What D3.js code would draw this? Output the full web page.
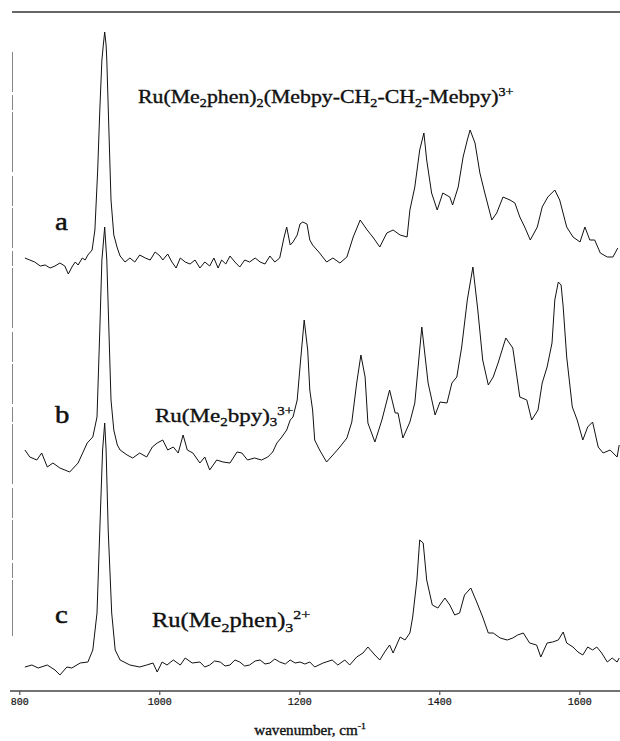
<!DOCTYPE html>
<html>
<head>
<meta charset="utf-8">
<script src="https://cdn.jsdelivr.net/npm/d3@7"></script>
<style>
  body { margin: 0; background: #fff; }
  svg { display: block; }
</style>
</head>
<body>
<svg></svg>
<script>
const width = 620;
const height = 741;

// wavenumbers (cm-1) and relative intensity above each trace's own baseline
const wnA = [808,815,822,830,837,844,851,858,865,870,876,880,884,890,894,898,904,908,912,915,918,920,922,924,925,928,931,935,940,944,
  951,958,965,972,980,987,994,1001,1005,1012,1018,1024,1030,1037,1044,1051,1058,1065,1072,1078,1084,1089,1095,1101,1108,1115,1122,1129,1137,1144,1151,1158,1165,1172,
  1178,1182,1187,1191,1197,1201,1205,1211,1215,1219,1229,1239,1248,1258,1268,1277,1287,1297,1305,1315,1325,1334,1344,1354,
  1358,1365,1372,1378,1382,1389,1397,1405,1415,1419,1427,1434,1440,1444,1451,1458,1465,1475,1482,1491,1501,1508,1515,1522,1530,
  1540,1547,1555,1565,1572,1582,1591,1601,1608,1615,1622,1630,1640,1648,1655];
const intA = [3.5,2.5,1.5,-0.5,0,-1.5,-0.5,1,-0.5,-4.5,-0.5,1.5,0,3.5,2.5,5,7.5,17.5,47.5,77.5,102.5,110,116.5,110,102.5,67.5,32.5,15,8.5,4.5,
  1.5,3.5,1.5,5,3.5,2.5,6.5,4.5,2.5,5.5,1.5,-1.5,3.5,1.5,0.5,2.5,-1.5,1.5,-0.5,3.5,-1.5,2.5,0.5,4.5,1.5,-1,2.5,1.5,3.5,1.5,0.5,4.5,1.5,3.5,
  13.5,19,10,11.5,15,20.5,21.5,20.5,12.5,10,6,1.5,3.5,1,4,14,22.5,17.5,14,9,16,17.5,15,14,
  27.5,39,57.5,66,52.5,36,27.5,36,34,30,39,54,62.5,67.5,61,46,36,22.5,26,34,32.5,31,24,19,12.5,
  19,29,34,37.5,32.5,19,14,11.5,19,12.5,12.5,6,4,4,8.5];

const wnB = [808,815,825,832,840,848,858,872,884,897,905,911,915,918,922,925,928,931,935,940,944,
  954,962,972,982,990,997,1005,1012,1020,1027,1034,1040,1048,1058,1065,1072,1082,1091,1101,1111,1118,1126,1136,1146,1155,1162,
  1168,1175,1182,1187,1191,1197,1201,1207,1212,1215,1219,1222,1229,1239,1248,1258,1268,1275,1282,1288,1294,1298,1308,1318,1329,
  1337,1341,1348,1358,1365,1375,1384,1394,1401,1411,1418,1425,1432,1440,1448,1455,1462,1470,1477,1484,1491,1495,1505,1515,1525,
  1532,1541,1547,1554,1561,1565,1570,1574,1577,1582,1590,1597,1605,1612,1619,1627,1634,1644,1654,1657];
const intB = [5,1.5,0,3.5,-3.5,-1.5,-4,-6,-1.5,8.5,11.5,21.5,65,100,116.5,100,65,30,15,7.5,5,
  2.5,1,3.5,1.5,6.5,8.5,10,5,6.5,3.5,12.5,5,3.5,-1.5,1.5,-5,0,-1,-1.5,4,3.5,0,1,0,1.5,4,
  8.5,11.5,15,20,21.5,30,46.5,70,55,35,25,10,5,-1,2.5,6.5,11,19,38.5,52.5,41.5,18.5,9,20,35,
  23.5,23.5,11,19,28.5,66.5,38.5,22.5,29,28.5,38.5,41.5,56.5,80,96.5,75,50,37.5,41.5,48.5,56.5,61,56,31.5,30,
  20,25,38.5,46.5,58.5,80,89,87.5,76.5,51.5,26.5,20,10,16.5,19,6.5,3.5,5,1.5,7.5];

const wnC = [808,818,827,840,851,858,868,875,887,898,905,911,915,919,922,924,927,932,937,944,
  958,972,982,991,997,1004,1011,1020,1030,1037,1047,1058,1065,1072,1079,1087,1094,1101,1108,1115,1122,1129,1137,1144,1151,1158,1165,1172,
  1180,1187,1194,1201,1208,1215,1222,1234,1247,1255,1265,1272,1282,1291,1298,1308,1315,1322,1329,1334,1344,1351,1358,
  1362,1368,1372,1377,1382,1390,1398,1408,1415,1422,1429,1436,1445,1454,1462,1470,1477,1487,1497,1505,1512,1520,1529,
  1539,1545,1554,1562,1570,1577,1582,1591,1598,1605,1612,1619,1625,1632,1640,1647,1654,1657];
const intC = [-1,0,-1.5,0,-2.5,-5,-1,-1.5,1,1.5,7.5,26,67.5,107.5,121,107.5,67.5,26,7.5,2.5,
  0,-1,0,1,-3.5,1.5,0,2.5,0,3.5,1,1.5,-1,0,2,1.5,-0.5,0,2.5,1.5,-0.5,0,2,2.5,0.5,1,3,1.5,
  0.5,2.5,1,1.5,0.5,1.5,-1,1,2.5,0,2.5,0,4,6,9,5,2.5,6.5,10,6,14,12.5,16,
  24,42.5,62.5,61,42.5,30,28.5,33.5,30,25,26,35,38.5,31,24,16,16,13.5,12.5,13.5,15,16,11,
  10,4,11,11.5,12.5,16.5,11,9,6.5,5,9,7.5,9,6,1.5,3.5,1.5,3.5];

// vertical offsets of the stacked traces (same units as intensity)
const offsets = [213, 115.5, 13];
const letters = ["a", "b", "c"];
const xTicks = [800, 1000, 1200, 1400, 1600];

const traces = [
  {wn: wnA, val: intA},
  {wn: wnB, val: intB},
  {wn: wnC, val: intC}
];

const x = d3.scaleLinear().domain([800, 1600]).range([19.3, 579.3]);
const y = d3.scaleLinear().domain([0, 340]).range([691, 11]);

const svg = d3.select("svg")
  .attr("width", width)
  .attr("height", height);

// frame bits: top rule, faint left rule
svg.append("line")
  .attr("x1", 12).attr("x2", 620)
  .attr("y1", y(339.5)).attr("y2", y(339.5))
  .attr("stroke", "#333").attr("stroke-width", 1.4);

svg.append("line")
  .attr("x1", 12.5).attr("x2", 12.5)
  .attr("y1", 52).attr("y2", 636)
  .attr("stroke", "#777").attr("stroke-width", 0.9)
  .attr("stroke-dasharray", "40,3,15,2,60,4,30,2");

// spectra
const line = d3.line()
  .x(function (d) { return x(d[0]); })
  .y(function (d) { return y(d[1]); });

traces.forEach(function (t, i) {
  const pts = t.wn.map(function (w, j) { return [w, t.val[j] + offsets[i]]; });
  svg.append("path")
    .datum(pts)
    .attr("d", line)
    .attr("fill", "none")
    .attr("stroke", "#111")
    .attr("stroke-width", 1)
    .attr("stroke-linejoin", "round");
});

// x axis
const axis = svg.append("g")
  .attr("transform", "translate(0," + y(0) + ")")
  .call(d3.axisBottom(x).tickValues(xTicks).tickSize(4).tickPadding(3).tickFormat(d3.format("d")));

axis.select(".domain").remove();
axis.selectAll(".tick line").attr("stroke", "#333");
axis.selectAll(".tick text")
  .attr("font-family", "Liberation Mono, DejaVu Sans Mono, monospace")
  .attr("font-size", 10)
  .attr("fill", "#111")
  .attr("stroke", "#111")
  .attr("stroke-width", 0.2);

axis.append("line")
  .attr("x1", 10).attr("x2", 620)
  .attr("y1", 0).attr("y2", 0)
  .attr("stroke", "#444").attr("stroke-width", 1.4);

svg.append("text")
  .attr("transform", "translate(310,735) scale(1.08,1)")
  .attr("text-anchor", "middle")
  .attr("font-family", "Liberation Serif, Times New Roman, serif")
  .attr("font-size", 14)
  .attr("fill", "#111")
  .attr("stroke", "#111")
  .attr("stroke-width", 0.35)
  .text("wavenumber, cm")
  .append("tspan")
    .attr("dy", -6)
    .attr("font-size", 9)
    .text("-1");

// trace letters
const letterPos = [[55, 230], [55, 423], [55, 623]];
letters.forEach(function (l, i) {
  svg.append("text")
    .attr("transform", "translate(" + letterPos[i][0] + "," + letterPos[i][1] + ") scale(1.15,1)")
    .attr("font-family", "Liberation Serif, Times New Roman, serif")
    .attr("font-size", 25)
    .attr("fill", "#111")
    .attr("stroke", "#111")
    .attr("stroke-width", 0.5)
    .text(l);
});

// compound names: [text, kind] pieces
const names = [
  [["Ru(Me", ""], ["2", "sub"], ["phen)", ""], ["2", "sub"], ["(Mebpy-CH", ""], ["2", "sub"],
   ["-CH", ""], ["2", "sub"], ["-Mebpy)", ""], ["3+", "sup"]],
  [["Ru(Me", ""], ["2", "sub"], ["bpy)", ""], ["3", "sub"], ["3+", "sup"]],
  [["Ru(Me", ""], ["2", "sub"], ["phen)", ""], ["3", "sub"], ["2+", "sup"]]
];
const namePos = [[138, 103], [155, 422], [152, 627]];
const nameSize = [18.5, 19.5, 20.8];

names.forEach(function (parts, i) {
  const fs = nameSize[i];
  const t = svg.append("text")
    .attr("transform", "translate(" + namePos[i][0] + "," + namePos[i][1] + ") scale(1.18,1)")
    .attr("font-family", "Liberation Serif, Times New Roman, serif")
    .attr("font-size", fs)
    .attr("fill", "#111")
    .attr("stroke", "#111")
    .attr("stroke-width", 0.35);
  let shift = 0;
  parts.forEach(function (p) {
    const target = p[1] === "sub" ? fs * 0.22 : p[1] === "sup" ? -fs * 0.38 : 0;
    t.append("tspan")
      .attr("dy", target - shift)
      .attr("font-size", p[1] ? fs * 0.65 : fs)
      .text(p[0]);
    shift = target;
  });
});
</script>
</body>
</html>
